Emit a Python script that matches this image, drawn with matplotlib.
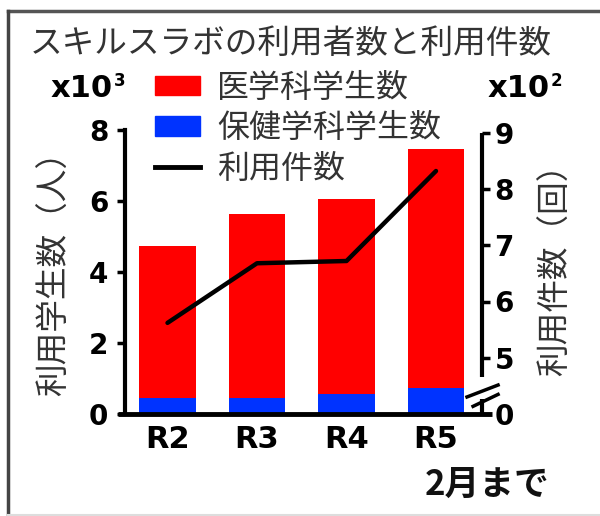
import numpy as np
import matplotlib
matplotlib.use("Agg")
import matplotlib.pyplot as plt
from matplotlib.lines import Line2D
from matplotlib.patches import Patch
from matplotlib.font_manager import FontProperties

# 年度ごとのデータ（R5は2月まで）
years = ["R2", "R3", "R4", "R5"]
hoken = [450, 450, 550, 720]          # 保健学科学生数（人）
igaku = [4280, 5180, 5510, 6740]      # 医学科学生数（人）
kensu = [562, 668, 672, 832]          # 利用件数（回）

left_ticks = [0, 2000, 4000, 6000, 8000]
right_ticks = [0, 500, 600, 700, 800, 900]

jp = "Noto Sans CJK JP"
txt_col = "#333333"
red = "#ff0000"
blue = "#0033ff"

fig = plt.figure(figsize=(6.0, 5.16), dpi=100)
W, H = 600, 516
ax = fig.add_axes([125 / W, 1 - 414 / H, 357 / W, 284 / H])

x = np.arange(len(years))
bw = 0.626
ax.bar(x, hoken, bw, color=blue, zorder=2)
ax.bar(x, igaku, bw, bottom=hoken, color=red, zorder=2)

ax.set_xlim(-0.475, 3.514)
ax.set_ylim(0, 8000)
ax.set_yticks(left_ticks)
ax.set_yticklabels([str(v // 1000) for v in left_ticks])
ax.set_xticks(x)
ax.set_xticklabels(years)

for s in ["top", "right", "bottom"]:
    ax.spines[s].set_visible(False)
ax.spines["left"].set_linewidth(3)
ax.spines["left"].set_bounds(0, 8000)
ax.tick_params(axis="y", direction="out", length=6, width=2.5, pad=6,
               labelsize=20)
ax.tick_params(axis="x", length=0, pad=8, labelsize=22)
for lab in ax.get_xticklabels() + ax.get_yticklabels():
    lab.set_fontweight("bold")
    lab.set_family("DejaVu Sans")

# 横軸（少し左右にはみ出す）
ax.plot([-0.02, 1.028], [0, 0], transform=ax.transAxes, color="k", lw=3.5,
        clip_on=False, solid_capstyle="butt", zorder=5)

# 右軸：0〜500の間を省略した軸
def fwd(v):
    v = np.asarray(v, dtype=float)
    return np.where(v < 500, v / 500, v / 100 - 4)

def inv(p):
    p = np.asarray(p, dtype=float)
    return np.where(p < 1, p * 500, (p + 4) * 100)

ax2 = ax.twinx()
ax2.set_yscale("function", functions=(fwd, inv))
ax2.set_ylim(0, inv(284 / 56.25))
ax2.set_yticks(right_ticks)
ax2.set_yticklabels([str(v // 100) for v in right_ticks])
ax2.yaxis.set_minor_locator(matplotlib.ticker.NullLocator())
for s in ["top", "right", "bottom", "left"]:
    ax2.spines[s].set_visible(False)
ax2.tick_params(axis="y", direction="out", length=6, width=2.5, pad=3,
                labelsize=20)
for lab in ax2.get_yticklabels():
    lab.set_fontweight("bold")
    lab.set_family("DejaVu Sans")

ax2.plot(x, kensu, color="k", lw=3.2, zorder=4, solid_capstyle="round")

# 右軸の線と省略記号
yt = ax2.get_yaxis_transform()
ax2.plot([1, 1], [0, 130], transform=yt, color="k", lw=3, clip_on=False,
         solid_capstyle="butt")
ax2.plot([1, 1], [330, 900], transform=yt, color="k", lw=3, clip_on=False,
         solid_capstyle="butt")
for dy in (0.0, -0.033):
    ax2.plot([0.958 + (0.017 if dy else 0), 1.045],
             [0.06 + dy, 0.102 + dy], transform=ax2.transAxes, color="k",
             lw=2.5, clip_on=False)

# タイトル・軸ラベル
fig.text(30 / W, 1 - 44 / H, "スキルスラボの利用者数と利用件数", family=jp,
         fontsize=23.5, color=txt_col, ha="left", va="center")
fig.text(55 / W, 1 - 266 / H, "利用学生数（人）", family=jp, fontsize=23.5,
         color=txt_col, rotation=90, ha="center", va="center")
fig.text(556 / W, 1 - 262 / H, "利用件数（回）", family=jp, fontsize=23.5,
         color=txt_col, rotation=90, ha="center", va="center")
fig.text(487 / W, 1 - 484 / H, "2月まで", family=jp, fontsize=25,
         fontweight="bold", color="#111111", ha="center", va="center")

# 単位表記
for xr, sup in ((113, "3"), (550, "2")):
    fig.text(xr / W, 1 - 97 / H, "x10", family="DejaVu Sans", fontsize=22,
             fontweight="bold", ha="right", va="baseline")
    fig.text((xr + 1) / W, 1 - 86 / H, sup, family="DejaVu Sans",
             fontsize=12, fontweight="bold", ha="left", va="baseline")

# 凡例
handles = [Patch(color=red), Patch(color=blue),
           Line2D([], [], color="k", lw=3.5)]
labels = ["医学科学生数", "保健学科学生数", "利用件数"]
fig.legend(handles, labels, loc="upper left",
           bbox_to_anchor=(155 / W, 1 - 72 / H), frameon=False,
           prop=FontProperties(family=jp, size=23), labelcolor=txt_col,
           handlelength=1.4, handleheight=0.55, handletextpad=0.55,
           labelspacing=0.26, borderpad=0, borderaxespad=0)

# 枠線
fig.add_artist(Line2D([8 / W, 1], [1 - 11 / H, 1 - 11 / H], color="#555555",
                      lw=2.5))
fig.add_artist(Line2D([8 / W, 8 / W], [1 - 11 / H, 0], color="#444444",
                      lw=2.5))
fig.add_artist(Line2D([8 / W, 1], [1 - 515 / H, 1 - 515 / H],
                      color="#dddddd", lw=1.5))

fig.savefig("out.png", dpi=100)
